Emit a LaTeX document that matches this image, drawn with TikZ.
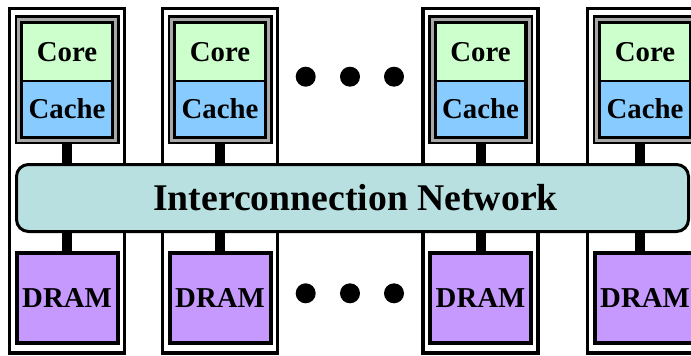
\documentclass[tikz,border=0pt]{standalone}
\usepackage{fontspec}
\setmainfont{Liberation Serif}
\usetikzlibrary{backgrounds}
\definecolor{coreg}{HTML}{CCFFCC}
\definecolor{cacheb}{HTML}{88CCFF}
\definecolor{netc}{HTML}{B8E0E0}
\definecolor{dramp}{HTML}{C699FF}
\definecolor{frameg}{HTML}{A8A8A8}
\begin{document}
\begin{tikzpicture}[x=1pt,y=-1pt,
  tile/.style={draw=black,line width=3.3pt,inner sep=0pt,minimum width=115pt,minimum height=344.5pt},
  modframe/.style={draw=black,double=frameg,double distance=3pt,line width=2.5pt,inner sep=0pt,minimum width=97pt,minimum height=121pt},
  lbl/.style={font=\fontsize{28.8pt}{30pt}\selectfont\bfseries,inner sep=0pt,text=black},
  corebox/.style={lbl,draw=black,line width=1.5pt,fill=coreg,minimum width=89pt,minimum height=58pt},
  cachebox/.style={lbl,draw=black,line width=1.5pt,fill=cacheb,minimum width=89pt,minimum height=55.5pt},
  drambox/.style={lbl,draw=black,line width=4pt,fill=dramp,minimum width=101pt,minimum height=90pt},
  netbox/.style={draw=black,line width=3pt,fill=netc,rounded corners=12pt,inner sep=0pt,minimum width=672pt,minimum height=67pt,font=\fontsize{37.7pt}{40pt}\selectfont\bfseries},
  stem/.style={line width=10pt,draw=black},
  dot/.style={circle,fill=black,inner sep=0pt,minimum size=20pt}]
\useasboundingbox (0,0) rectangle (691,356);
\foreach \i/\cx in {1/67,2/220,3/480.5,4/645}{
  \node[tile] (t\i) at (\cx,180.75) {};
  \node[modframe] (m\i) at (\cx,79.5) {};
  \node[corebox] (core\i) at (\cx,52) {Core};
  \node[cachebox] (cache\i) at (\cx,108.75) {Cache};
  \node[drambox] (dram\i) at (\cx,298) {DRAM};
}
\node[netbox] (net) at (352.5,198) {\hspace*{6pt}Interconnection Network};
\foreach \x/\n in {305.7/a,350/b,394/c}{
  \node[dot] (u\n) at (\x,76.7) {};
  \node[dot] (l\n) at (\x,293.3) {};
}
\begin{pgfonlayer}{background}
\foreach \i in {1,2,3}{
  \draw[stem] (m\i.south) -- (m\i.south |- net.north);
  \draw[stem] (dram\i.north) -- (dram\i.north |- net.south);
}
\draw[stem] ([xshift=-5pt]m4.south) -- ([xshift=-5pt]m4.south |- net.north);
\draw[stem] ([xshift=-5pt]dram4.north) -- ([xshift=-5pt]dram4.north |- net.south);
\end{pgfonlayer}
\end{tikzpicture}
\end{document}
